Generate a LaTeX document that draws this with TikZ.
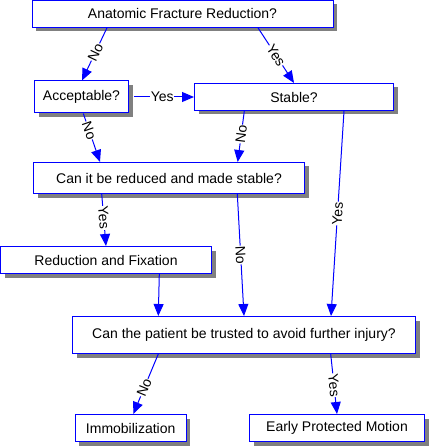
\documentclass[tikz,border=0pt]{standalone}
\usepackage{fontspec}
\setmainfont{Liberation Sans}
\usetikzlibrary{arrows.meta,shadows}

\begin{document}
\begin{tikzpicture}[x=1pt, y=-1pt,
  every node/.style={font=\fontsize{14}{16}\selectfont},
  box/.style={draw=blue, fill=white, line width=1pt, inner sep=0pt,
    drop shadow={shadow xshift=4pt, shadow yshift=-4pt, fill=black!50, opacity=1}},
  flow/.style={draw=blue, line width=1pt, -{Triangle[length=12pt,width=10pt]}},
  lab/.style={sloped, fill=white, inner sep=.5pt}]
  \useasboundingbox (0,0) rectangle (429,446);

  \node[box, minimum width=301pt, minimum height=27pt] (frac) at (182.5,13.8) {Anatomic Fracture Reduction?};
  \node[box, minimum width=94pt, minimum height=32pt] (acc) at (81.5,97) {Acceptable?};
  \node[box, minimum width=199pt, minimum height=27pt] (stable) at (294,97) {Stable?};
  \node[box, minimum width=271pt, minimum height=31pt] (can) at (169,178) {Can it be reduced and made stable?};
  \node[box, minimum width=211pt, minimum height=27pt] (redfix) at (106,260) {Reduction and Fixation};
  \node[box, minimum width=343pt, minimum height=37pt] (trust) at (244,335) {Can the patient be trusted to avoid further injury?};
  \node[box, minimum width=110.7pt, minimum height=27pt] (immob) at (130.7,428) {Immobilization};
  \node[box, minimum width=175pt, minimum height=27pt] (early) at (337,428) {Early Protected Motion};

  \draw[flow] ([xshift=-75.5pt]frac.south) -- node[lab, pos=.46] {No} ([xshift=.5pt]acc.north);
  \draw[flow] ([xshift=75.5pt]frac.south) -- node[lab, pos=.5] {Yes} (stable.north);
  \draw[flow] ([xshift=5pt]acc.east) -- node[lab, pos=.47] {Yes} (stable.west);
  \draw[flow] ([xshift=1.8pt]acc.south) -- node[lab, pos=.35] {No} ([xshift=-69pt]can.north);
  \draw[flow] ([xshift=-49.7pt]stable.south) -- node[lab, pos=.45] {No} ([xshift=68.7pt]can.north);
  \draw[flow] ([xshift=50pt]stable.south) -- node[lab, pos=.5] {Yes} ([xshift=87pt]trust.north);
  \draw[flow] ([xshift=-67.3pt]can.south) -- node[lab, pos=.46] {Yes} (redfix.north);
  \draw[flow] ([xshift=68.3pt]can.south) -- node[lab, pos=.5] {No} (trust.north);
  \draw[flow] ([xshift=53.3pt]redfix.south) -- ([xshift=-85.7pt]trust.north);
  \draw[flow] ([xshift=-85.7pt]trust.south) -- node[lab, pos=.56] {No} ([xshift=2.6pt]immob.north);
  \draw[flow] ([xshift=86.7pt]trust.south) -- node[lab, pos=.52] {Yes} (early.north);
\end{tikzpicture}
\end{document}
